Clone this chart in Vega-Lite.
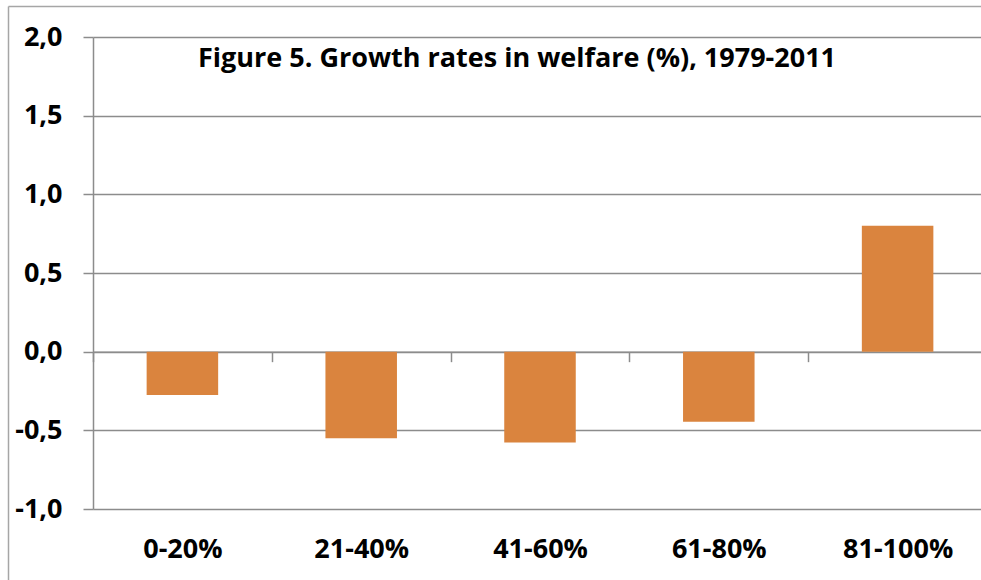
{
  "$schema": "https://vega.github.io/schema/vega-lite/v6.json",
  "width": 888,
  "height": 472,
  "autosize": {"type": "none"},
  "padding": {"left": 93, "top": 37, "right": 0, "bottom": 71},
  "background": "white",
  "config": {
    "view": {"stroke": null},
    "font": "Open Sans",
    "locale": {"number": {"decimal": ",", "thousands": ".", "grouping": [3], "currency": ["", " €"], "minus": "-"}}
  },
  "title": {
    "text": "Figure 5. Growth rates in welfare (%), 1979-2011",
    "font": "Open Sans",
    "fontSize": 27,
    "fontWeight": "bold",
    "color": "#000000",
    "anchor": "middle",
    "frame": "group",
    "baseline": "alphabetic",
    "offset": 0,
    "dy": 91,
    "dx": -20
  },
  "data": {
    "values": [
      {"group": "0-20%", "growth": -0.275},
      {"group": "21-40%", "growth": -0.55},
      {"group": "41-60%", "growth": -0.578},
      {"group": "61-80%", "growth": -0.445},
      {"group": "81-100%", "growth": 0.80}
    ]
  },
  "layer": [
    {
      "mark": {"type": "bar", "color": "#DA843E", "width": {"band": 0.4}},
      "encoding": {
        "x": {
          "field": "group",
          "type": "nominal",
          "sort": null,
          "scale": {"range": [0, 894], "paddingInner": 0, "paddingOuter": 0},
          "axis": {
            "orient": "bottom",
            "offset": -157.33,
            "title": null,
            "grid": false,
            "domainColor": "#8c8c8c",
            "domainWidth": 1.5,
            "tickColor": "#8c8c8c",
            "tickWidth": 1.5,
            "tickSize": 10,
            "tickBand": "extent",
            "labelPadding": 175,
            "labelAngle": 0,
            "labelFont": "Open Sans",
            "labelFontSize": 27,
            "labelFontWeight": "bold",
            "labelColor": "#000000"
          }
        },
        "y": {
          "field": "growth",
          "type": "quantitative",
          "scale": {"domain": [-1, 2], "nice": false, "zero": false},
          "axis": {
            "orient": "left",
            "title": null,
            "values": [-1, -0.5, 0, 0.5, 1, 1.5, 2],
            "format": ".1f",
            "grid": true,
            "gridColor": "#8c8c8c",
            "gridWidth": 1.5,
            "domainColor": "#8c8c8c",
            "domainWidth": 1.5,
            "tickColor": "#8c8c8c",
            "tickWidth": 1.5,
            "tickSize": 10,
            "labelPadding": 21,
            "labelFont": "Open Sans",
            "labelFontSize": 27,
            "labelFontWeight": "bold",
            "labelColor": "#000000"
          }
        }
      }
    },
    {
      "mark": {"type": "point", "opacity": 0},
      "encoding": {
        "x": {
          "field": "group",
          "type": "nominal",
          "sort": null,
          "scale": {"range": [-85, 888]},
          "axis": {"orient": "top", "offset": 31, "title": null, "labels": false, "ticks": false, "grid": false, "domainColor": "#a6a6a6", "domainWidth": 1.5}
        },
        "y": {
          "field": "growth",
          "type": "quantitative",
          "scale": {"range": [543, -31]},
          "axis": {"orient": "left", "offset": 85, "title": null, "labels": false, "ticks": false, "grid": false, "domainColor": "#a6a6a6", "domainWidth": 1.5}
        }
      }
    }
  ],
  "resolve": {"scale": {"x": "independent", "y": "independent"}}
}
